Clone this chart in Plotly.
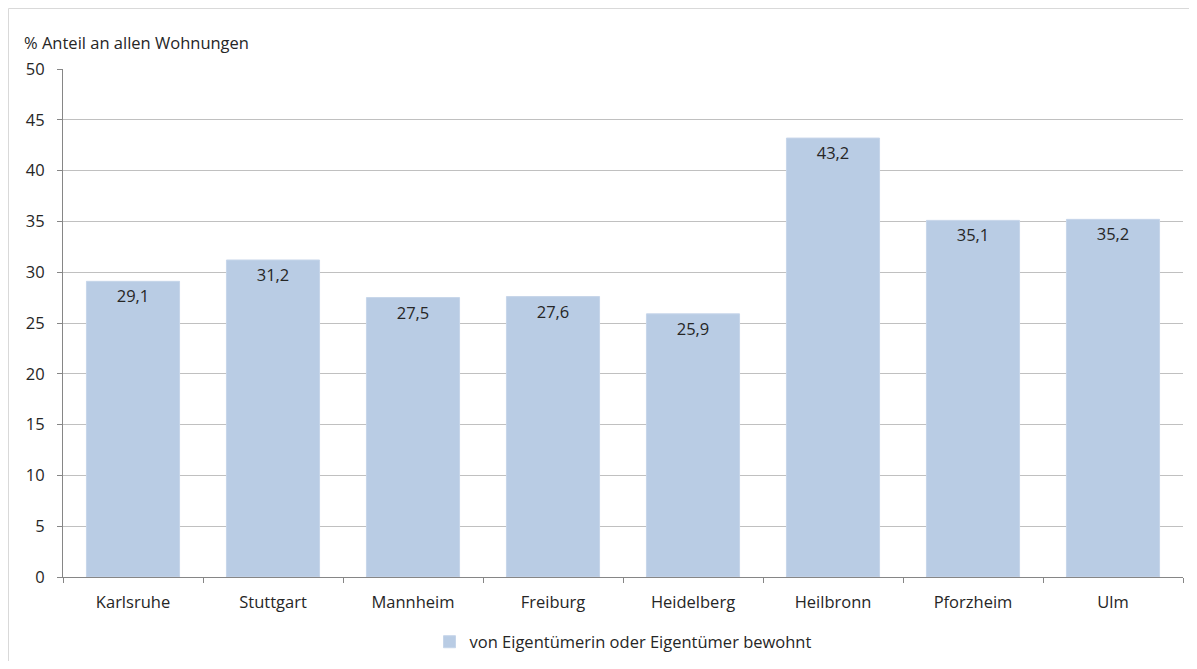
import plotly.graph_objects as go

cities = ["Karlsruhe", "Stuttgart", "Mannheim", "Freiburg", "Heidelberg", "Heilbronn", "Pforzheim", "Ulm"]
values = [29.1, 31.2, 27.5, 27.6, 25.9, 43.2, 35.1, 35.2]
labels = ["29,1", "31,2", "27,5", "27,6", "25,9", "43,2", "35,1", "35,2"]
series_name = "von Eigentümerin oder Eigentümer bewohnt"
y_title = "% Anteil an allen Wohnungen"
y_ticks = [0, 5, 10, 15, 20, 25, 30, 35, 40, 45, 50]

# page has an 8px body margin; figure coordinates are page - 8
W, H = 1181, 653
L, T = 55, 61
pw, ph = 1120, 508
R = W - L - pw
B = H - T - ph

bar_color = "#B9CCE4"
font = "Open Sans"
fs = 16.5
text_color = "#262626"

fig = go.Figure()
fig.add_trace(go.Bar(
    x=cities, y=values, name=series_name,
    marker=dict(color=bar_color, line=dict(color="#C6D5E9", width=1)),
    text=labels, textposition="inside", insidetextanchor="end",
    textfont=dict(family=font, size=fs, color=text_color),
    width=0.665, showlegend=True,
))

fig.update_layout(
    width=W, height=H,
    margin=dict(l=L, r=R, t=T, b=B, autoexpand=False),
    paper_bgcolor="white", plot_bgcolor="white",
    font=dict(family=font, size=fs, color=text_color),
    showlegend=True,
    legend=dict(orientation="h", x=0.5, xanchor="center",
                y=-(634 - (T + ph)) / ph, yanchor="middle",
                font=dict(family=font, size=fs, color=text_color),
                itemwidth=30),
    xaxis=dict(showline=True, linecolor="#868686", linewidth=1,
               ticks="outside", tickson="boundaries", ticklen=5, tickcolor="#868686",
               ticklabelstandoff=10,
               tickfont=dict(family=font, size=fs, color=text_color), showgrid=False),
    yaxis=dict(range=[0, 50], tickvals=y_ticks, showline=True, linecolor="#868686",
               linewidth=1, ticks="outside", ticklen=5, tickcolor="#868686",
               ticklabelstandoff=9,
               showgrid=True, gridcolor="#C0C0C0", gridwidth=1, zeroline=False,
               tickfont=dict(family=font, size=fs, color=text_color)),
    annotations=[dict(text=y_title, xref="paper", yref="paper",
                      x=(14 - L) / pw, y=(T + ph - 34) / ph, xanchor="left", yanchor="middle",
                      showarrow=False, font=dict(family=font, size=fs, color=text_color))],
    shapes=[dict(type="rect", xref="paper", yref="paper",
                 x0=(0.5 - L) / pw, x1=(W + 5 - L) / pw,
                 y0=(T + ph - (H + 5)) / ph, y1=(T + ph - 0.5) / ph,
                 line=dict(color="#D9D9D9", width=1), layer="below")],
)

fig.write_html("out.html")
